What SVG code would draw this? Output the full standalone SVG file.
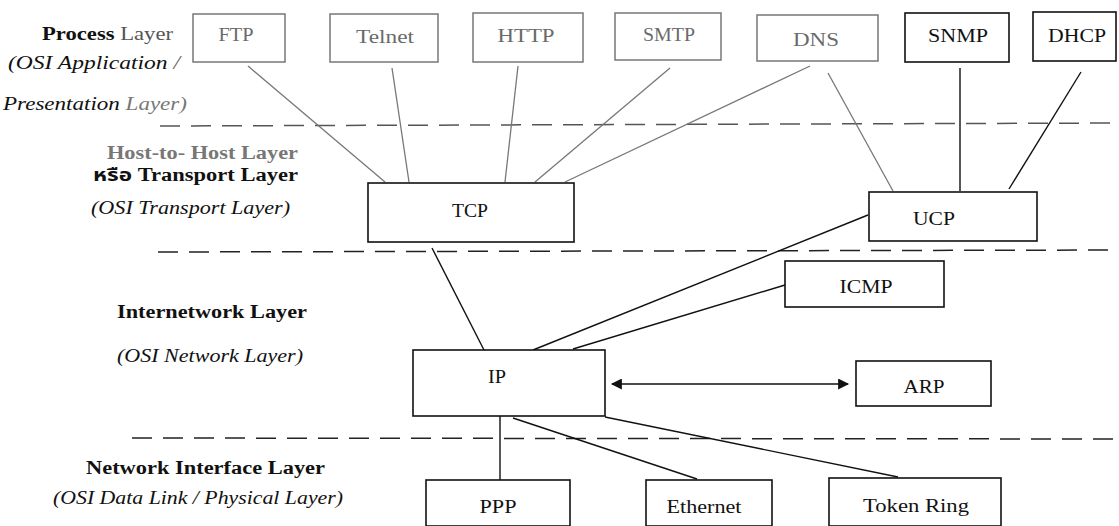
<svg xmlns="http://www.w3.org/2000/svg" width="1119" height="526" viewBox="0 0 1119 526">
<defs>
<style>
.box{fill:#fff;stroke:#111;stroke-width:1.6}
.gbox{fill:#fff;stroke:#777;stroke-width:1.5}
.lbl{font-family:"Liberation Serif","Noto Serif",serif;font-size:18px;fill:#111;text-anchor:middle}
.glbl{font-family:"Liberation Serif","Noto Serif",serif;font-size:18px;fill:#6a6a6a;text-anchor:middle}
.lay{font-family:"Liberation Serif","Noto Serif","Noto Sans Thai","Noto Serif Thai",serif;font-size:18px;fill:#111;font-weight:bold}
.osi{font-family:"Liberation Serif","Noto Serif",serif;font-size:18px;fill:#111;font-style:italic}
.dash{stroke:#222;stroke-width:1.5;stroke-dasharray:20 11;fill:none}
.gdash{stroke:#555;stroke-width:1.5;stroke-dasharray:20 11;fill:none}
.ln{stroke:#111;stroke-width:1.4;fill:none}
.gln{stroke:#777;stroke-width:1.3;fill:none}
</style>
<marker id="ah" viewBox="0 0 10 10" refX="9" refY="5" markerWidth="16" markerHeight="11" markerUnits="userSpaceOnUse" orient="auto-start-reverse">
<path d="M0,0 L10,5 L0,10 Z" fill="#111"/>
</marker>
</defs>

<g id="labels">
<text x="42" y="40" class="lay" textLength="131" lengthAdjust="spacingAndGlyphs">Process <tspan font-weight="normal" fill="#555">Layer</tspan></text>
<text x="8" y="69" class="osi" textLength="172" lengthAdjust="spacingAndGlyphs">(OSI Application <tspan fill="#666">/</tspan></text>
<text x="3" y="110" class="osi" textLength="184" lengthAdjust="spacingAndGlyphs">Presentation <tspan fill="#777">Layer)</tspan></text>
<text x="107" y="159" class="lay" style="fill:#777" textLength="191" lengthAdjust="spacingAndGlyphs">Host-to- Host Layer</text>
<text x="93" y="181" class="lay" textLength="205" lengthAdjust="spacingAndGlyphs">หรือ Transport Layer</text>
<text x="91" y="214" class="osi" textLength="199" lengthAdjust="spacingAndGlyphs">(OSI Transport Layer)</text>
<text x="117" y="318" class="lay" textLength="190" lengthAdjust="spacingAndGlyphs">Internetwork Layer</text>
<text x="117" y="362" class="osi" textLength="186" lengthAdjust="spacingAndGlyphs">(OSI Network Layer)</text>
<text x="86" y="474" class="lay" textLength="239" lengthAdjust="spacingAndGlyphs">Network Interface Layer</text>
<text x="53" y="504" class="osi" textLength="290" lengthAdjust="spacingAndGlyphs">(OSI Data Link / Physical Layer)</text>
</g>

<g id="layer-dividers">
<line x1="160" y1="126" x2="1119" y2="123" class="gdash"/>
<line x1="158" y1="252" x2="1119" y2="250" class="dash"/>
<line x1="132" y1="438" x2="1119" y2="439" class="dash"/>
</g>

<g id="connectors">
<line x1="248" y1="66" x2="385" y2="182" class="gln"/>
<line x1="392" y1="68" x2="409" y2="182" class="gln"/>
<line x1="518" y1="66" x2="505" y2="182" class="gln"/>
<line x1="670" y1="68" x2="535" y2="182" class="gln"/>
<line x1="810" y1="66" x2="565" y2="182" class="gln"/>
<line x1="828" y1="73" x2="893" y2="191" class="gln"/>
<line x1="960" y1="68" x2="960" y2="191" class="ln"/>
<line x1="1081" y1="72" x2="1009" y2="189" class="ln"/>
<line x1="432" y1="248" x2="484" y2="350" class="ln"/>
<line x1="868" y1="215" x2="533" y2="350" class="ln"/>
<line x1="785" y1="285" x2="573" y2="349" class="ln"/>
<line x1="612" y1="384" x2="848" y2="384" class="ln" marker-start="url(#ah)" marker-end="url(#ah)"/>
<line x1="500" y1="416" x2="500" y2="480" class="ln"/>
<line x1="513" y1="418" x2="697" y2="479" class="ln"/>
<line x1="605" y1="417" x2="898" y2="477" class="ln"/>
</g>

<g id="ftp"><rect x="193" y="14" width="92" height="48" class="gbox"/><text x="236" y="41" class="glbl" textLength="35" lengthAdjust="spacingAndGlyphs">FTP</text></g>
<g id="telnet"><rect x="330" y="14" width="108" height="48" class="gbox"/><text x="385" y="43" class="glbl" textLength="58" lengthAdjust="spacingAndGlyphs">Telnet</text></g>
<g id="http"><rect x="473" y="13" width="110" height="49" class="gbox"/><text x="526" y="42" class="glbl" textLength="57" lengthAdjust="spacingAndGlyphs">HTTP</text></g>
<g id="smtp"><rect x="615" y="13" width="106" height="47" class="gbox"/><text x="669" y="41" class="glbl" textLength="52" lengthAdjust="spacingAndGlyphs">SMTP</text></g>
<g id="dns"><rect x="757" y="15" width="121" height="46" class="gbox"/><text x="816" y="46" class="glbl" textLength="46" lengthAdjust="spacingAndGlyphs">DNS</text></g>
<g id="snmp"><rect x="905" y="13" width="104" height="49" class="box"/><text x="958" y="42" class="lbl" textLength="60" lengthAdjust="spacingAndGlyphs">SNMP</text></g>
<g id="dhcp"><rect x="1033" y="12" width="83" height="49" class="box"/><text x="1077" y="42" class="lbl" textLength="58" lengthAdjust="spacingAndGlyphs">DHCP</text></g>
<g id="tcp"><rect x="368" y="183" width="206" height="59" class="box"/><text x="470" y="217" class="lbl" textLength="36" lengthAdjust="spacingAndGlyphs">TCP</text></g>
<g id="ucp"><rect x="869" y="192" width="168" height="49" class="box"/><text x="934" y="225" class="lbl" textLength="42" lengthAdjust="spacingAndGlyphs">UCP</text></g>
<g id="icmp"><rect x="785" y="261" width="159" height="46" class="box"/><text x="866" y="293" class="lbl" textLength="53" lengthAdjust="spacingAndGlyphs">ICMP</text></g>
<g id="ip"><rect x="413" y="350" width="192" height="66" class="box"/><text x="497" y="383" class="lbl" textLength="18" lengthAdjust="spacingAndGlyphs">IP</text></g>
<g id="arp"><rect x="856" y="361" width="135" height="45" class="box"/><text x="924" y="393" class="lbl" textLength="41" lengthAdjust="spacingAndGlyphs">ARP</text></g>
<g id="ppp"><rect x="426" y="480" width="144" height="46" class="box"/><text x="498" y="513" class="lbl" textLength="37" lengthAdjust="spacingAndGlyphs">PPP</text></g>
<g id="ethernet"><rect x="646" y="480" width="126" height="46" class="box"/><text x="704" y="513" class="lbl" textLength="75" lengthAdjust="spacingAndGlyphs">Ethernet</text></g>
<g id="token-ring"><rect x="829" y="478" width="172" height="48" class="box"/><text x="916" y="512" class="lbl" textLength="106" lengthAdjust="spacingAndGlyphs">Token Ring</text></g>
</svg>
